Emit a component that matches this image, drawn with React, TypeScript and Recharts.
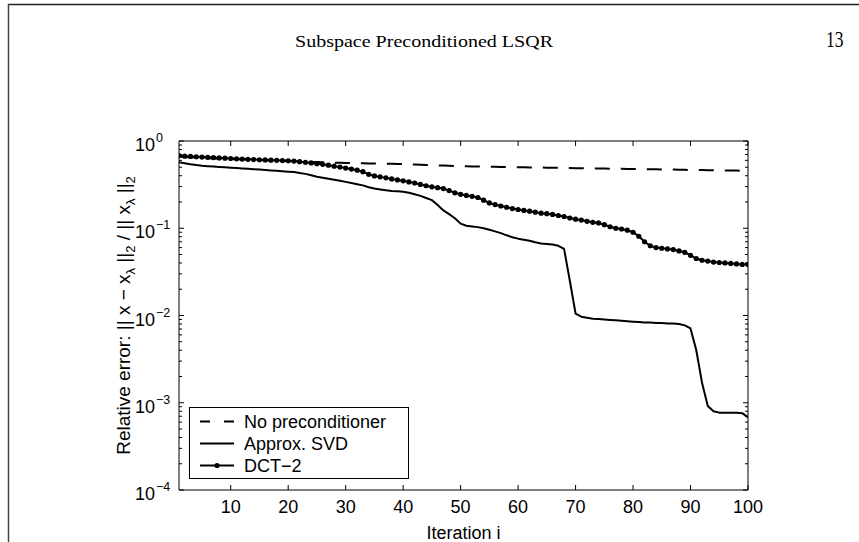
import { LineChart, Line, XAxis, YAxis, ReferenceLine } from 'recharts'

// iteration count on the x axis
const iterations = Array.from({ length: 100 }, (_, k) => k + 1)

// relative error per iteration, one list per preconditioner
const noPreconditioner = [
  0.66, 0.655, 0.65, 0.645, 0.64, 0.636, 0.632, 0.628, 0.624, 0.62,
  0.617, 0.614, 0.611, 0.608, 0.605, 0.602, 0.599, 0.596, 0.593, 0.59,
  0.587, 0.584, 0.58, 0.576, 0.573, 0.57, 0.567, 0.564, 0.562, 0.56,
  0.558, 0.556, 0.555, 0.554, 0.553, 0.552, 0.55, 0.548, 0.546, 0.544,
  0.541, 0.538, 0.535, 0.532, 0.529, 0.526, 0.523, 0.52, 0.517, 0.515,
  0.513, 0.511, 0.509, 0.508, 0.507, 0.506, 0.504, 0.503, 0.502, 0.5,
  0.499, 0.498, 0.497, 0.496, 0.495, 0.494, 0.492, 0.491, 0.49, 0.488,
  0.487, 0.486, 0.485, 0.484, 0.483, 0.482, 0.481, 0.48, 0.479, 0.477,
  0.476, 0.475, 0.474, 0.473, 0.472, 0.471, 0.47, 0.469, 0.467, 0.466,
  0.465, 0.464, 0.463, 0.462, 0.461, 0.46, 0.459, 0.458, 0.457, 0.455,
]

const approxSvd = [
  0.57, 0.555, 0.54, 0.53, 0.52, 0.515, 0.51, 0.505, 0.5, 0.495,
  0.49, 0.485, 0.48, 0.475, 0.47, 0.465, 0.46, 0.455, 0.45, 0.445,
  0.44, 0.43, 0.42, 0.405, 0.39, 0.38, 0.37, 0.36, 0.35, 0.34,
  0.33, 0.32, 0.31, 0.295, 0.285, 0.278, 0.272, 0.268, 0.265, 0.262,
  0.255, 0.245, 0.235, 0.222, 0.21, 0.185, 0.16, 0.145, 0.13, 0.113,
  0.107, 0.105, 0.103, 0.1, 0.096, 0.092, 0.088, 0.083, 0.079, 0.076,
  0.074, 0.072, 0.069, 0.067, 0.066, 0.065, 0.063, 0.058, 0.025, 0.0105,
  0.0097, 0.0094, 0.0092, 0.0091, 0.009, 0.0089, 0.0088, 0.0087, 0.0086, 0.0085,
  0.0084, 0.0083, 0.0083, 0.0082, 0.0082, 0.0081, 0.0081, 0.008, 0.0077, 0.0071,
  0.004, 0.0017, 0.00092, 0.0008, 0.00077, 0.00077, 0.00077, 0.00077, 0.00076, 0.00068,
]

const dct2 = [
  0.68, 0.67, 0.665, 0.66, 0.655, 0.65, 0.645, 0.64, 0.635, 0.63,
  0.625, 0.62, 0.617, 0.613, 0.61, 0.607, 0.603, 0.6, 0.597, 0.594,
  0.588, 0.58, 0.57, 0.56, 0.55, 0.54, 0.528, 0.515, 0.502, 0.49,
  0.477, 0.463, 0.445, 0.415, 0.398, 0.388, 0.378, 0.368, 0.358, 0.35,
  0.34, 0.33, 0.318, 0.307, 0.298, 0.292, 0.285, 0.27, 0.255, 0.245,
  0.238, 0.232, 0.225, 0.21, 0.195, 0.187, 0.18, 0.174, 0.168, 0.164,
  0.16, 0.157, 0.153, 0.149, 0.147, 0.144, 0.14, 0.136, 0.131, 0.127,
  0.124, 0.12, 0.117, 0.115, 0.11, 0.104, 0.1, 0.098, 0.095, 0.09,
  0.081, 0.07, 0.063, 0.06, 0.059, 0.058, 0.057, 0.055, 0.053, 0.049,
  0.045, 0.043, 0.042, 0.041, 0.0405, 0.04, 0.0395, 0.039, 0.0385, 0.0385,
]

const xTicks = [10, 20, 30, 40, 50, 60, 70, 80, 90, 100]
const yDecades = [1e-4, 1e-3, 1e-2, 1e-1, 1]
const yMinorSteps = [2, 3, 4, 5, 6, 7, 8, 9]

const legendItems = ['No preconditioner', 'Approx. SVD', 'DCT\u22122']

const rows = iterations.map((it, k) => ({
  it,
  none: noPreconditioner[k],
  svd: approxSvd[k],
  dct: dct2[k],
}))

const yTicks = yDecades.flatMap((d) => (d < 1 ? [d, ...yMinorSteps.map((m) => d * m)] : [d]))

const W = 859
const H = 542
const LEFT = 179
const TOP = 141
const RIGHT = 111
const BOTTOM = 52
const PLOT_W = W - LEFT - RIGHT
const PLOT_H = H - TOP - BOTTOM

const FONT = '"Liberation Sans", Arial, Helvetica, sans-serif'
const SERIF = '"Liberation Serif", "Times New Roman", serif'

function XTick(props: any) {
  const { x, y, payload } = props
  return (
    <g>
      <line x1={x} x2={x} y1={y} y2={y - 5} stroke="#000" strokeWidth={1} />
      <line x1={x} x2={x} y1={y - PLOT_H} y2={y - PLOT_H + 5} stroke="#000" strokeWidth={1} />
      <text x={x} y={y + 23} textAnchor="middle" fontFamily={FONT} fontSize={18} fill="#000">
        {payload.value}
      </text>
    </g>
  )
}

function YTick(props: any) {
  const { x, y, payload } = props
  const v = payload.value
  const exp = Math.round(Math.log10(v))
  const major = Math.abs(v - Math.pow(10, exp)) < 1e-12
  const len = major ? 5 : 3
  return (
    <g>
      <line x1={x} x2={x + len} y1={y} y2={y} stroke="#000" strokeWidth={1} />
      <line x1={x + PLOT_W} x2={x + PLOT_W - len} y1={y} y2={y} stroke="#000" strokeWidth={1} />
      {major && (
        <g fontFamily={FONT} fill="#000">
          <text x={x - 24} y={y + 10} textAnchor="end" fontSize={18}>
            10
          </text>
          <text x={x - 23} y={y + 1} textAnchor="start" fontSize={12.5}>
            {exp === 0 ? '0' : `\u2212${-exp}`}
          </text>
        </g>
      )}
    </g>
  )
}

function YLabel() {
  const cx = 130
  const cy = TOP + PLOT_H / 2
  const sub = { fontSize: 13 }
  return (
    <text
      x={cx}
      y={cy}
      transform={`rotate(-90, ${cx}, ${cy})`}
      textAnchor="middle"
      fontFamily={FONT}
      fontSize={19}
      fill="#000"
    >
      Relative error: || x {'\u2212'} x
      <tspan dy={5} {...sub}>{'\u03bb'}</tspan>
      <tspan dy={-5}> ||</tspan>
      <tspan dy={5} {...sub}>2</tspan>
      <tspan dy={-5}> / || x</tspan>
      <tspan dy={5} {...sub}>{'\u03bb'}</tspan>
      <tspan dy={-5}> ||</tspan>
      <tspan dy={5} {...sub}>2</tspan>
    </text>
  )
}

function XLabel() {
  return (
    <text x={LEFT + PLOT_W / 2} y={539} textAnchor="middle" fontFamily={FONT} fontSize={18} fill="#000">
      Iteration i
    </text>
  )
}

function LegendBox() {
  const rowsY = [421.5, 443.5, 465.5]
  return (
    <svg width={W} height={H} style={{ position: 'absolute', left: 0, top: 0, pointerEvents: 'none' }}>
      <rect x={189.5} y={407.5} width={219} height={71} fill="#fff" stroke="#000" strokeWidth={1} />
      {legendItems.map((name, k) => {
        const y = rowsY[k]
        return (
          <g key={name}>
            <line
              x1={200}
              x2={234}
              y1={y}
              y2={y}
              stroke="#000"
              strokeWidth={2}
              strokeDasharray={k === 0 ? '10 14' : undefined}
            />
            {k === 2 && <circle cx={217} cy={y} r={2.6} fill="#000" />}
            <text x={244} y={y + 6.5} fontFamily={FONT} fontSize={18} fill="#000">
              {name}
            </text>
          </g>
        )
      })}
    </svg>
  )
}

export default function App() {
  return (
    <div style={{ position: 'absolute', left: 0, top: 0, width: W, height: H, background: '#fff', overflow: 'hidden' }}>
      {/* page frame and running header */}
      <svg width={W} height={H} style={{ position: 'absolute', left: 0, top: 0 }}>
        <line x1={8} x2={W} y1={4.5} y2={4.5} stroke="#222" strokeWidth={1.5} />
        <line x1={8.5} x2={8.5} y1={4} y2={H} stroke="#444" strokeWidth={1.5} />
        <text
          x={295}
          y={47}
          fontFamily={SERIF}
          fontSize={17}
          textLength={258}
          lengthAdjust="spacingAndGlyphs"
          fill="#000"
        >
          Subspace Preconditioned LSQR
        </text>
        <text x={826} y={47} fontFamily={SERIF} fontSize={24} textLength={17.5} lengthAdjust="spacingAndGlyphs" fill="#000">
          13
        </text>
      </svg>
      <div style={{ position: 'absolute', left: 0, top: 0 }}>
        <LineChart width={W} height={H} data={rows} margin={{ top: TOP, right: RIGHT, bottom: 0, left: 0 }}>
          <XAxis
            dataKey="it"
            type="number"
            domain={[1, 100]}
            ticks={xTicks}
            interval={0}
            height={BOTTOM}
            tickSize={0}
            tickMargin={0}
            tickLine={false}
            axisLine={{ stroke: '#000', strokeWidth: 1 }}
            tick={<XTick />}
            allowDataOverflow
          />
          <YAxis
            type="number"
            scale="log"
            domain={[1e-4, 1]}
            ticks={yTicks}
            interval={0}
            width={LEFT}
            tickSize={0}
            tickMargin={0}
            tickLine={false}
            axisLine={{ stroke: '#000', strokeWidth: 1 }}
            tick={<YTick />}
            allowDataOverflow
          />
          <ReferenceLine y={1} stroke="#000" strokeWidth={1} />
          <ReferenceLine x={100} stroke="#000" strokeWidth={1} />
          <Line
            dataKey="none"
            stroke="#000"
            strokeWidth={2}
            strokeDasharray="15 11"
            dot={false}
            activeDot={false}
            isAnimationActive={false}
          />
          <Line
            dataKey="svd"
            stroke="#000"
            strokeWidth={2}
            strokeLinejoin="round"
            dot={false}
            activeDot={false}
            isAnimationActive={false}
          />
          <Line
            dataKey="dct"
            stroke="#000"
            strokeWidth={2}
            dot={{ r: 2.6, fill: '#000', stroke: 'none' }}
            activeDot={false}
            isAnimationActive={false}
          />
        </LineChart>
      </div>
      <svg width={W} height={H} style={{ position: 'absolute', left: 0, top: 0, pointerEvents: 'none' }}>
        <YLabel />
        <XLabel />
      </svg>
      <LegendBox />
    </div>
  )
}
